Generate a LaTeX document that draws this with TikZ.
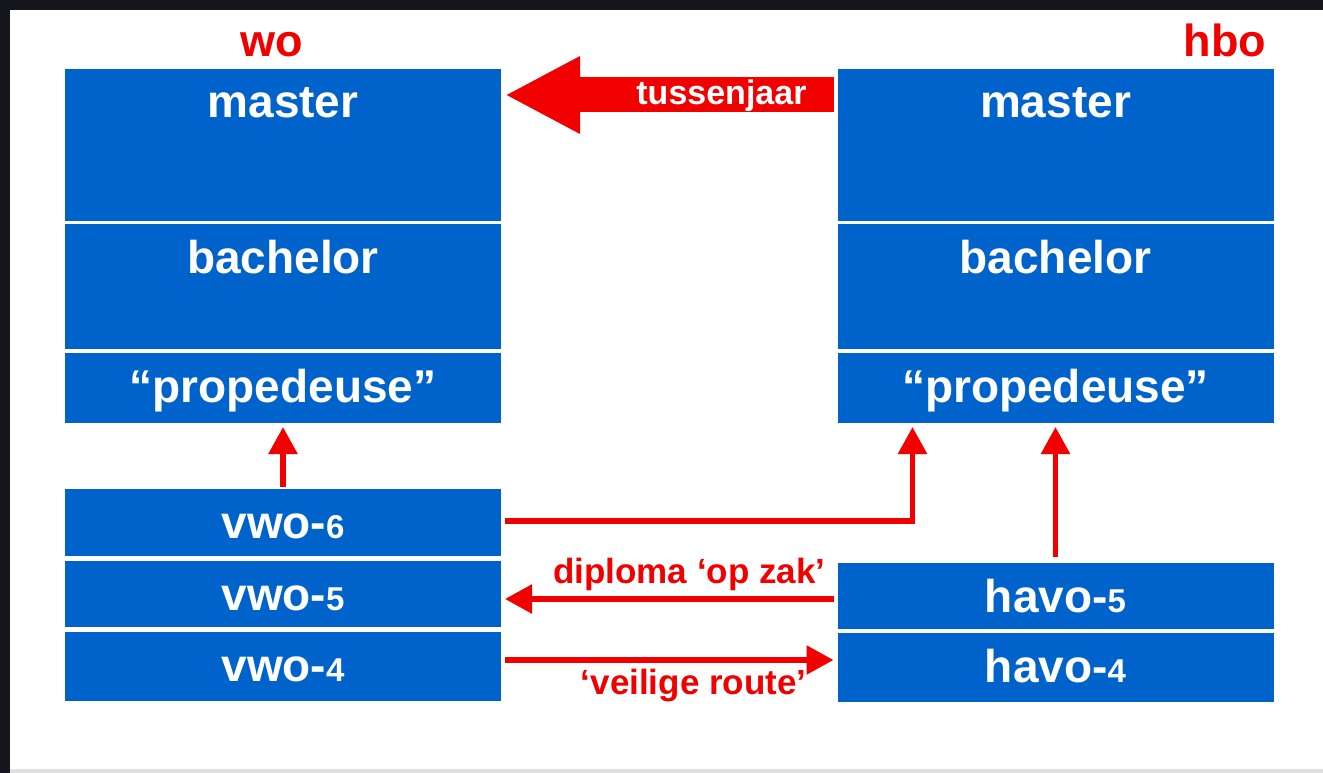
\documentclass[tikz,border=0pt]{standalone}
\usepackage{fontspec}
\setmainfont{Liberation Sans}
\usetikzlibrary{arrows.meta}
\definecolor{slideblue}{HTML}{0063CB}
\definecolor{slidered}{HTML}{F20000}
\definecolor{framedark}{HTML}{16161F}
\newcommand{\lowdigit}[1]{{\fontsize{33}{33}\selectfont #1}}

\begin{document}
\begin{tikzpicture}[x=1pt,y=-1pt,inner sep=0pt,outer sep=0pt,
stage/.style={fill=slideblue,text=white,minimum width=436pt,text height=49pt,text depth=#1,font=\bfseries\fontsize{46}{50}\selectfont},
title/.style={text=slidered,font=\bfseries\fontsize{45}{50}\selectfont},
redtext/.style={text=slidered,font=\bfseries\fontsize{35}{40}\selectfont},
bigarrow/.style={slidered,line width=35pt,-{Triangle[length=75pt,width=72pt]}},
redline/.style={slidered,line width=5.5pt,-{Triangle[length=27pt,width=28pt]}}]

% slide frame
\useasboundingbox (0,0) rectangle (1323,773);
\fill[framedark] (0,0) rectangle (1323,773);
\fill[white] (10,10) rectangle (1323,769);
\fill[black!12] (10,769) rectangle (1323,773);

% wo column
\node[title,anchor=base] (wo) at (272,57) {wo};
\node[stage=103pt] (womaster) at (283,145) {master};
\node[stage=76pt] (wobach) at (283,286.5) {bachelor};
\node[stage=21pt] (woprop) at (283,388) {“propedeuse”};
\node[stage=18pt] (wovwo6) at (283,522.5) {vwo-\lowdigit{6}};
\node[stage=17pt] (wovwo5) at (283,594) {vwo-\lowdigit{5}};
\node[stage=20pt] (wovwo4) at (283,666.5) {vwo-\lowdigit{4}};

% hbo column
\node[title,anchor=base east] (hbo) at (1266,57) {hbo};
\node[stage=103pt] (hbomaster) at (1055.5,145) {master};
\node[stage=76pt] (hbobach) at (1055.5,286.5) {bachelor};
\node[stage=21pt] (hboprop) at (1055.5,388) {“propedeuse”};
\node[stage=17pt] (hbohavo5) at (1055.5,596) {havo-\lowdigit{5}};
\node[stage=20pt] (hbohavo4) at (1055.5,667.5) {havo-\lowdigit{4}};

% routes
\draw[bigarrow] ([xshift=-4pt,yshift=50pt]hbomaster.west) -- ([xshift=4pt,yshift=50pt]womaster.east)
  node[at start,anchor=east,xshift=-27pt,yshift=-1pt,text=white,font=\bfseries\fontsize{34}{40}\selectfont] {tussenjaar};
\draw[redline] ([yshift=2pt]wovwo6.north) -- ([yshift=-4pt]woprop.south);
\draw[redline] ([xshift=4pt,yshift=1.5pt]wovwo6.east) -| ([xshift=75pt,yshift=-4pt]hboprop.south west);
\draw[redline] ([yshift=6pt]hbohavo5.north) -- ([yshift=-4pt]hboprop.south);
\draw[redline] ([xshift=-4pt,yshift=-3pt]hbohavo5.west) -- ([xshift=4pt,yshift=-5pt]wovwo5.east)
  node[redtext,at start,anchor=base east,xshift=-8pt,yshift=16pt] {diploma ‘op zak’};
\draw[redline] ([xshift=4pt,yshift=6.5pt]wovwo4.east) -- ([xshift=-4pt,yshift=7.5pt]hbohavo4.west)
  node[redtext,at end,anchor=base east,xshift=-27pt,yshift=-34pt] {‘veilige route’};
\end{tikzpicture}
\end{document}
